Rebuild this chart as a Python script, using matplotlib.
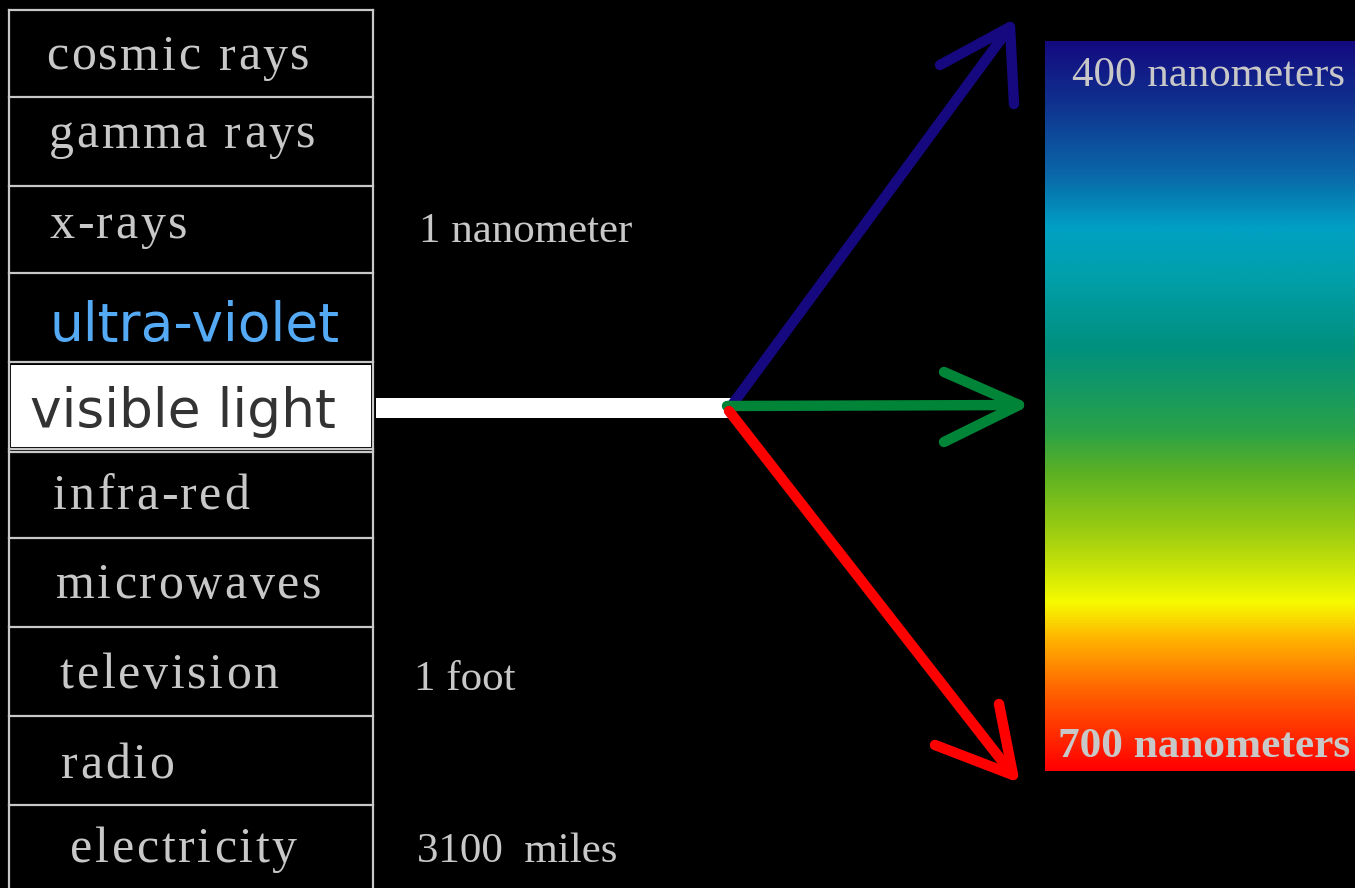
import matplotlib.pyplot as plt
from matplotlib.patches import Rectangle
from matplotlib.colors import LinearSegmentedColormap
import numpy as np

# electromagnetic spectrum bands, top to bottom
band_labels = ['cosmic rays', 'gamma rays', 'x-rays', 'ultra-violet', 'visible light',
               'infra-red', 'microwaves', 'television', 'radio', 'electricity']
row_edges = [10, 97, 186, 273, 362, 452, 538, 627, 716, 805, 894]
label_x = [46, 49, 49, 50, 30, 53, 56, 60, 61, 70]
label_base = [70, 148, 238, 341, 427, 509, 598, 688, 778, 862]

# wavelength notes beside the table
scale_labels = ['1 nanometer', '1 foot', '3100  miles']
scale_pos = [(419, 242), (414, 690), (417, 862)]

# colour stops of the visible spectrum bar (fraction from top, colour)
stop_frac = [0.0, 0.08, 0.18, 0.255, 0.32, 0.42, 0.535, 0.59, 0.68, 0.77, 0.82, 0.89, 1.0]
stop_cols = ['#140a80', '#10308e', '#0a66a8', '#00a0c4', '#00a0ac', '#00907e', '#2aa248',
             '#5ab024', '#a2d010', '#f6fb00', '#ffb400', '#ff6400', '#ff0000']

GRAY = '#c8c8c8'
SERIF = 'Liberation Serif'


def spaced_text(ax, renderer, x, y, s, track, **kw):
    # draw text one char at a time with extra letter spacing
    for i, ch in enumerate(s):
        if i == 0:
            off = 0
        else:
            probe = ax.text(0, 0, s[:i] + '|', **kw)
            bar = ax.text(0, 0, '|', **kw)
            off = probe.get_window_extent(renderer).width - bar.get_window_extent(renderer).width
            probe.remove()
            bar.remove()
        ax.text(x + off + i * track, y, ch, va='baseline', ha='left', zorder=5, **kw)


def draw_arrow(ax, start, tip, arm1, arm2, color):
    ax.plot([start[0], tip[0]], [start[1], tip[1]], color=color, lw=7.5,
            solid_capstyle='round', zorder=4)
    ax.plot([arm1[0], tip[0], arm2[0]], [arm1[1], tip[1], arm2[1]], color=color, lw=7.5,
            solid_capstyle='round', solid_joinstyle='round', zorder=4)


def main():
    fig = plt.figure(figsize=(13.55, 8.88), dpi=100, facecolor='black')
    ax = fig.add_axes([0, 0, 1, 1])
    ax.set_facecolor('black')
    ax.set_xlim(0, 1355)
    ax.set_ylim(888, 0)
    ax.axis('off')
    renderer = fig.canvas.get_renderer()

    # table frame
    ax.plot([9, 9], [10, 888], color=GRAY, lw=1.6)
    ax.plot([373, 373], [10, 888], color=GRAY, lw=1.6)
    for y in row_edges[:-1]:
        ax.plot([9, 373], [y, y], color=GRAY, lw=1.6)
    ax.plot([9, 373], [449, 449], color=GRAY, lw=1.6)

    # visible light highlight + beam
    ax.add_patch(Rectangle((11, 365), 360, 82, facecolor='white', edgecolor='none', zorder=2))
    ax.add_patch(Rectangle((376, 398), 358, 20, facecolor='white', edgecolor='none', zorder=2))

    for i, lab in enumerate(band_labels):
        if lab == 'ultra-violet':
            ax.text(label_x[i], label_base[i], lab, color='#55aaf5', fontsize=38.5,
                    family='DejaVu Sans', va='baseline', ha='left', zorder=5)
        elif lab == 'visible light':
            ax.text(label_x[i], label_base[i], lab, color='#333333', fontsize=38.5,
                    family='DejaVu Sans', va='baseline', ha='left', zorder=5)
        else:
            spaced_text(ax, renderer, label_x[i], label_base[i], lab, 2.7,
                        color=GRAY, fontsize=36, family=SERIF)

    for lab, (x, y) in zip(scale_labels, scale_pos):
        ax.text(x, y, lab, color=GRAY, fontsize=31, family=SERIF, va='baseline', ha='left')

    # spectrum bar
    cmap = LinearSegmentedColormap.from_list('spec', list(zip(stop_frac, stop_cols)))
    grad = np.linspace(0, 1, 512).reshape(-1, 1)
    ax.imshow(grad, cmap=cmap, extent=(1045, 1355, 771, 42), aspect='auto', zorder=1)
    ax.set_xlim(0, 1355)
    ax.set_ylim(888, 0)
    ax.text(1072, 86, '400 nanometers', color=GRAY, fontsize=31, family=SERIF,
            va='baseline', ha='left', zorder=5)
    ax.text(1058, 757, '700 nanometers', color=GRAY, fontsize=31.2, family=SERIF,
            fontweight='bold', va='baseline', ha='left', zorder=5)

    # arrows splitting the beam
    draw_arrow(ax, (732, 405), (1010, 27), (940, 65), (1014, 104), '#16087e')
    draw_arrow(ax, (727, 406), (1019, 405), (944, 372), (944, 442), '#008437')
    draw_arrow(ax, (729, 411), (1013, 775), (935, 745), (999, 704), '#ff0000')

    fig.savefig('out.png', dpi=100, facecolor='black')


if __name__ == '__main__':
    main()
